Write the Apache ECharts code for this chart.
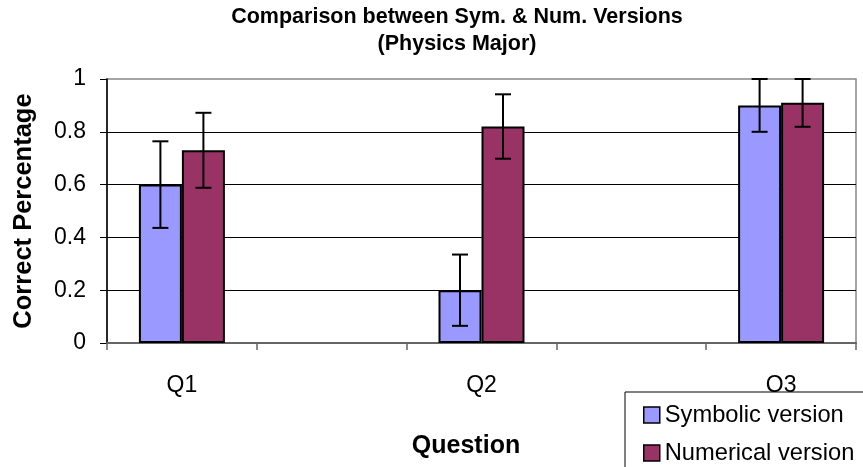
<!DOCTYPE html>
<html>
<head>
<meta charset="utf-8">
<script src="https://cdn.jsdelivr.net/npm/echarts@6/dist/echarts.min.js"></script>
<style>
html,body{margin:0;padding:0;background:#fff;}
#chart{width:863px;height:467px;}
</style>
</head>
<body>
<div id="chart"></div>
<script>
// Data
const categories = ['Q1', '', 'Q2', '', 'Q3'];
const seriesNames = ['Symbolic version', 'Numerical version'];
const symbolic = [0.60, null, 0.20, null, 0.90];
const numerical = [0.73, null, 0.82, null, 0.91];
const symbolicErr = [0.164, null, 0.135, null, 0.10];
const numericalErr = [0.142, null, 0.122, null, 0.091];
const yTicks = [0, 0.2, 0.4, 0.6, 0.8, 1];

const colors = ['#9999FF', '#993366'];
const FONT = '"Liberation Sans", Arial, sans-serif';
const BAR_FRAC = 0.287; // bar width as fraction of category band

function errData(vals, errs) {
  const out = [];
  vals.forEach((v, i) => { if (v != null) out.push([i, v, errs[i]]); });
  return out;
}

function errRender(side) {
  return function (params, api) {
    const idx = api.value(0), v = api.value(1), e = api.value(2);
    const band = api.size([1, 0])[0];
    const off = side * band * BAR_FRAC / 2;
    const top = api.coord([idx, Math.min(1, v + e)]);
    const bot = api.coord([idx, v - e]);
    const x = top[0] + off;
    const cap = 8;
    const style = { stroke: '#000', lineWidth: 2 };
    return {
      type: 'group',
      children: [
        { type: 'line', shape: { x1: x, y1: top[1], x2: x, y2: bot[1] }, style },
        { type: 'line', shape: { x1: x - cap, y1: top[1], x2: x + cap, y2: top[1] }, style },
        { type: 'line', shape: { x1: x - cap, y1: bot[1], x2: x + cap, y2: bot[1] }, style }
      ]
    };
  };
}

const chart = echarts.init(document.getElementById('chart'), null, { renderer: 'canvas' });
chart.setOption({
  backgroundColor: '#fff',
  animation: false,
  textStyle: { fontFamily: FONT },
  title: {
    text: 'Comparison between Sym. & Num. Versions\n(Physics Major)',
    left: 457, top: 4, padding: 0,
    textAlign: 'center',
    textStyle: { fontFamily: FONT, fontSize: 21.5, fontWeight: 'bold', color: '#000', lineHeight: 27 }
  },
  grid: {
    left: 107, right: 7, top: 79, bottom: 124,
    show: true, borderColor: '#888', borderWidth: 1.5, backgroundColor: 'transparent'
  },
  legend: {
    orient: 'vertical',
    left: 625, top: 392,
    width: 400, height: 300,
    padding: [11, 30, 40, 18],
    borderColor: '#000', borderWidth: 1,
    backgroundColor: '#fff',
    itemWidth: 16, itemHeight: 16, itemGap: 14,
    icon: 'rect',
    itemStyle: { borderColor: '#000', borderWidth: 1.5 },
    textStyle: { fontFamily: FONT, fontSize: 23.7, color: '#000', lineHeight: 23 },
    data: seriesNames
  },
  xAxis: {
    type: 'category',
    data: categories,
    name: 'Question',
    nameLocation: 'middle',
    nameGap: 91,
    nameTextStyle: { fontFamily: FONT, fontSize: 25, fontWeight: 'bold', color: '#000', padding: [0, 31, 0, 0] },
    axisLine: { lineStyle: { color: '#666', width: 2 } },
    axisTick: { show: true, length: 7, lineStyle: { color: '#666', width: 1.5 } },
    axisLabel: { fontFamily: FONT, fontSize: 23, color: '#000', margin: 31, interval: 0 },
    splitLine: { show: false }
  },
  yAxis: {
    type: 'value',
    min: 0, max: 1, interval: 0.2,
    name: 'Correct Percentage',
    nameLocation: 'middle',
    nameRotate: 90,
    nameGap: 70,
    nameTextStyle: { fontFamily: FONT, fontSize: 25.5, fontWeight: 'bold', color: '#000' },
    axisLine: { show: true, lineStyle: { color: '#000', width: 1.5 } },
    axisTick: { show: true, length: 7, lineStyle: { color: '#000', width: 1 } },
    axisLabel: {
      fontFamily: FONT, fontSize: 23, color: '#000', margin: 21,
      formatter: v => (yTicks.indexOf(Math.round(v * 10) / 10) >= 0 ? String(Math.round(v * 10) / 10) : '')
    },
    splitLine: { show: true, showMinLine: false, showMaxLine: false, lineStyle: { color: '#000', width: 1 } }
  },
  series: [
    {
      name: seriesNames[0], type: 'bar', data: symbolic,
      barWidth: (BAR_FRAC * 100) + '%', barGap: '0%',
      itemStyle: { color: colors[0], borderColor: '#000', borderWidth: 2 }
    },
    {
      name: seriesNames[1], type: 'bar', data: numerical,
      barWidth: (BAR_FRAC * 100) + '%', barGap: '0%',
      itemStyle: { color: colors[1], borderColor: '#000', borderWidth: 2 }
    },
    {
      type: 'custom', name: 'symErr', data: errData(symbolic, symbolicErr),
      renderItem: errRender(-1), z: 5, clip: false
    },
    {
      type: 'custom', name: 'numErr', data: errData(numerical, numericalErr),
      renderItem: errRender(1), z: 5, clip: false
    }
  ]
});
</script>
</body>
</html>
